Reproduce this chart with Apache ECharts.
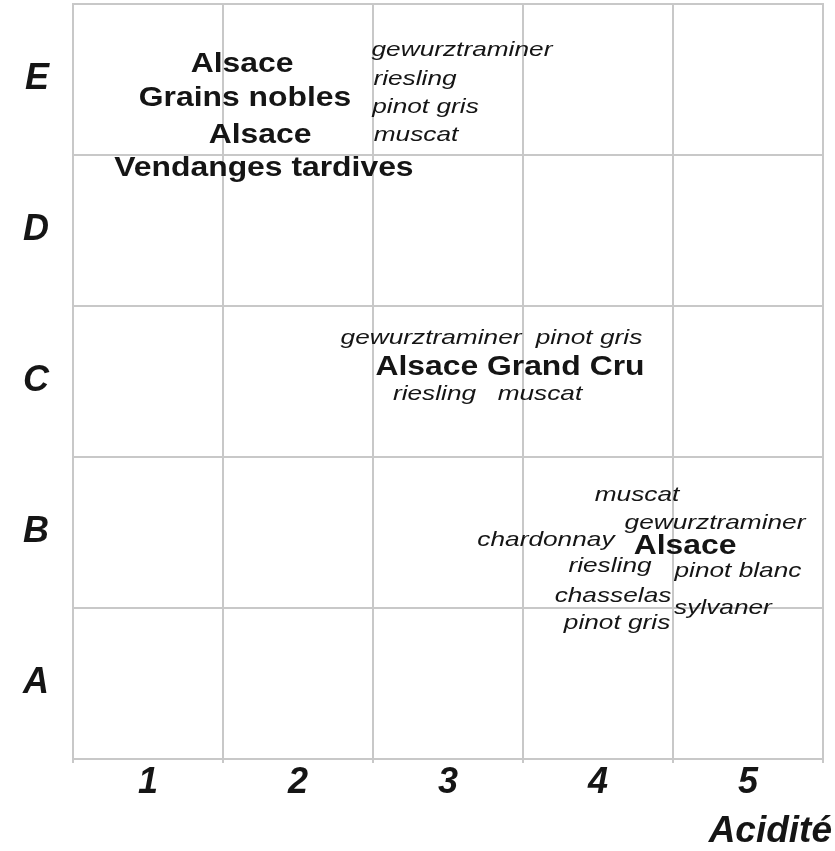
<!DOCTYPE html>
<html>
<head>
<meta charset="utf-8">
<script src="https://cdn.jsdelivr.net/npm/echarts@6/dist/echarts.min.js"></script>
<style>
  html, body { margin: 0; padding: 0; background: #fff; }
  #chart { width: 835px; height: 851px; }
</style>
</head>
<body>
<div id="chart"></div>
<script>
// axis categories
var acidity = ['1', '2', '3', '4', '5'];
var sweetness = ['A', 'B', 'C', 'D', 'E'];

// wine names (bold) : [acidity, sweetness, text]
var wineNames = [
    [1.127, 4.616, 'Alsace'],
    [1.147, 4.391, 'Grains nobles'],
    [1.247, 4.152, 'Alsace'],
    [1.273, 3.927, 'Vendanges tardives'],
    [2.913, 2.609, 'Alsace Grand Cru'],
    [4.080, 1.430, 'Alsace']
];

// grape varieties (italic) : [acidity, sweetness, text]
var grapes = [
    [2.593, 4.715, 'gewurztraminer'],
    [2.280, 4.523, 'riesling'],
    [2.350, 4.338, 'pinot gris'],
    [2.287, 4.152, 'muscat'],
    [2.387, 2.808, 'gewurztraminer'],
    [3.440, 2.808, 'pinot gris'],
    [2.410, 2.437, 'riesling'],
    [3.113, 2.437, 'muscat'],
    [3.760, 1.768, 'muscat'],
    [4.280, 1.583, 'gewurztraminer'],
    [3.153, 1.470, 'chardonnay'],
    [3.580, 1.298, 'riesling'],
    [4.433, 1.265, 'pinot blanc'],
    [3.600, 1.099, 'chasselas'],
    [4.333, 1.020, 'sylvaner'],
    [3.627, 0.921, 'pinot gris']
];

var FONT = '"Liberation Sans", Arial, sans-serif';
var LINE = '#c8c8c8';

// text placed through the hidden value axes, stretched a bit like the original
function textSeries(items, font, stretch) {
    return {
        type: 'custom',
        xAxisIndex: 1,
        yAxisIndex: 1,
        silent: true,
        data: items.map(function (d) { return [d[0], d[1]]; }),
        renderItem: function (params, api) {
            var p = api.coord([api.value(0), api.value(1)]);
            return {
                type: 'text',
                x: p[0],
                y: p[1] + 3,
                scaleX: stretch,
                style: {
                    text: items[params.dataIndex][2],
                    font: font,
                    fill: '#151515',
                    align: 'center',
                    verticalAlign: 'middle',
                    textAlign: 'center',
                    textVerticalAlign: 'middle'
                }
            };
        }
    };
}

var mychart = echarts.init(document.getElementById('chart'));
var option = {
    animation: false,
    grid: {
        left: 73,
        right: 12,
        top: 4,
        bottom: 92,
        show: true,
        borderColor: LINE,
        borderWidth: 2,
        backgroundColor: '#fff'
    },
    xAxis: [
        {
            type: 'category',
            data: acidity,
            boundaryGap: true,
            axisLine: { lineStyle: { color: LINE, width: 2 } },
            axisTick: { show: true, length: 4, lineStyle: { color: LINE, width: 2 } },
            splitLine: { show: true, lineStyle: { color: LINE, width: 2 } },
            axisLabel: {
                margin: 6,
                color: '#151515',
                fontFamily: FONT,
                fontSize: 36,
                fontWeight: 'bold',
                fontStyle: 'italic'
            },
            name: 'Acidité',
            nameLocation: 'end',
            nameGap: 9,
            nameTextStyle: {
                color: '#151515',
                fontFamily: FONT,
                fontSize: 37,
                fontWeight: 'bold',
                fontStyle: 'italic',
                align: 'right',
                verticalAlign: 'top',
                padding: [54, 0, 0, 0]
            }
        },
        { type: 'value', min: 0, max: 5, show: false }
    ],
    yAxis: [
        {
            type: 'category',
            data: sweetness,
            boundaryGap: true,
            axisLine: { lineStyle: { color: LINE, width: 2 } },
            axisTick: { show: false },
            splitLine: { show: true, lineStyle: { color: LINE, width: 2 } },
            axisLabel: {
                margin: 24,
                color: '#151515',
                fontFamily: FONT,
                fontSize: 36,
                fontWeight: 'bold',
                fontStyle: 'italic'
            }
        },
        { type: 'value', min: 0, max: 5, show: false }
    ],
    series: [
        textSeries(wineNames, 'bold 27px ' + FONT, 1.18),
        textSeries(grapes, 'italic 21px ' + FONT, 1.25)
    ]
};
mychart.setOption(option);
</script>
</body>
</html>
